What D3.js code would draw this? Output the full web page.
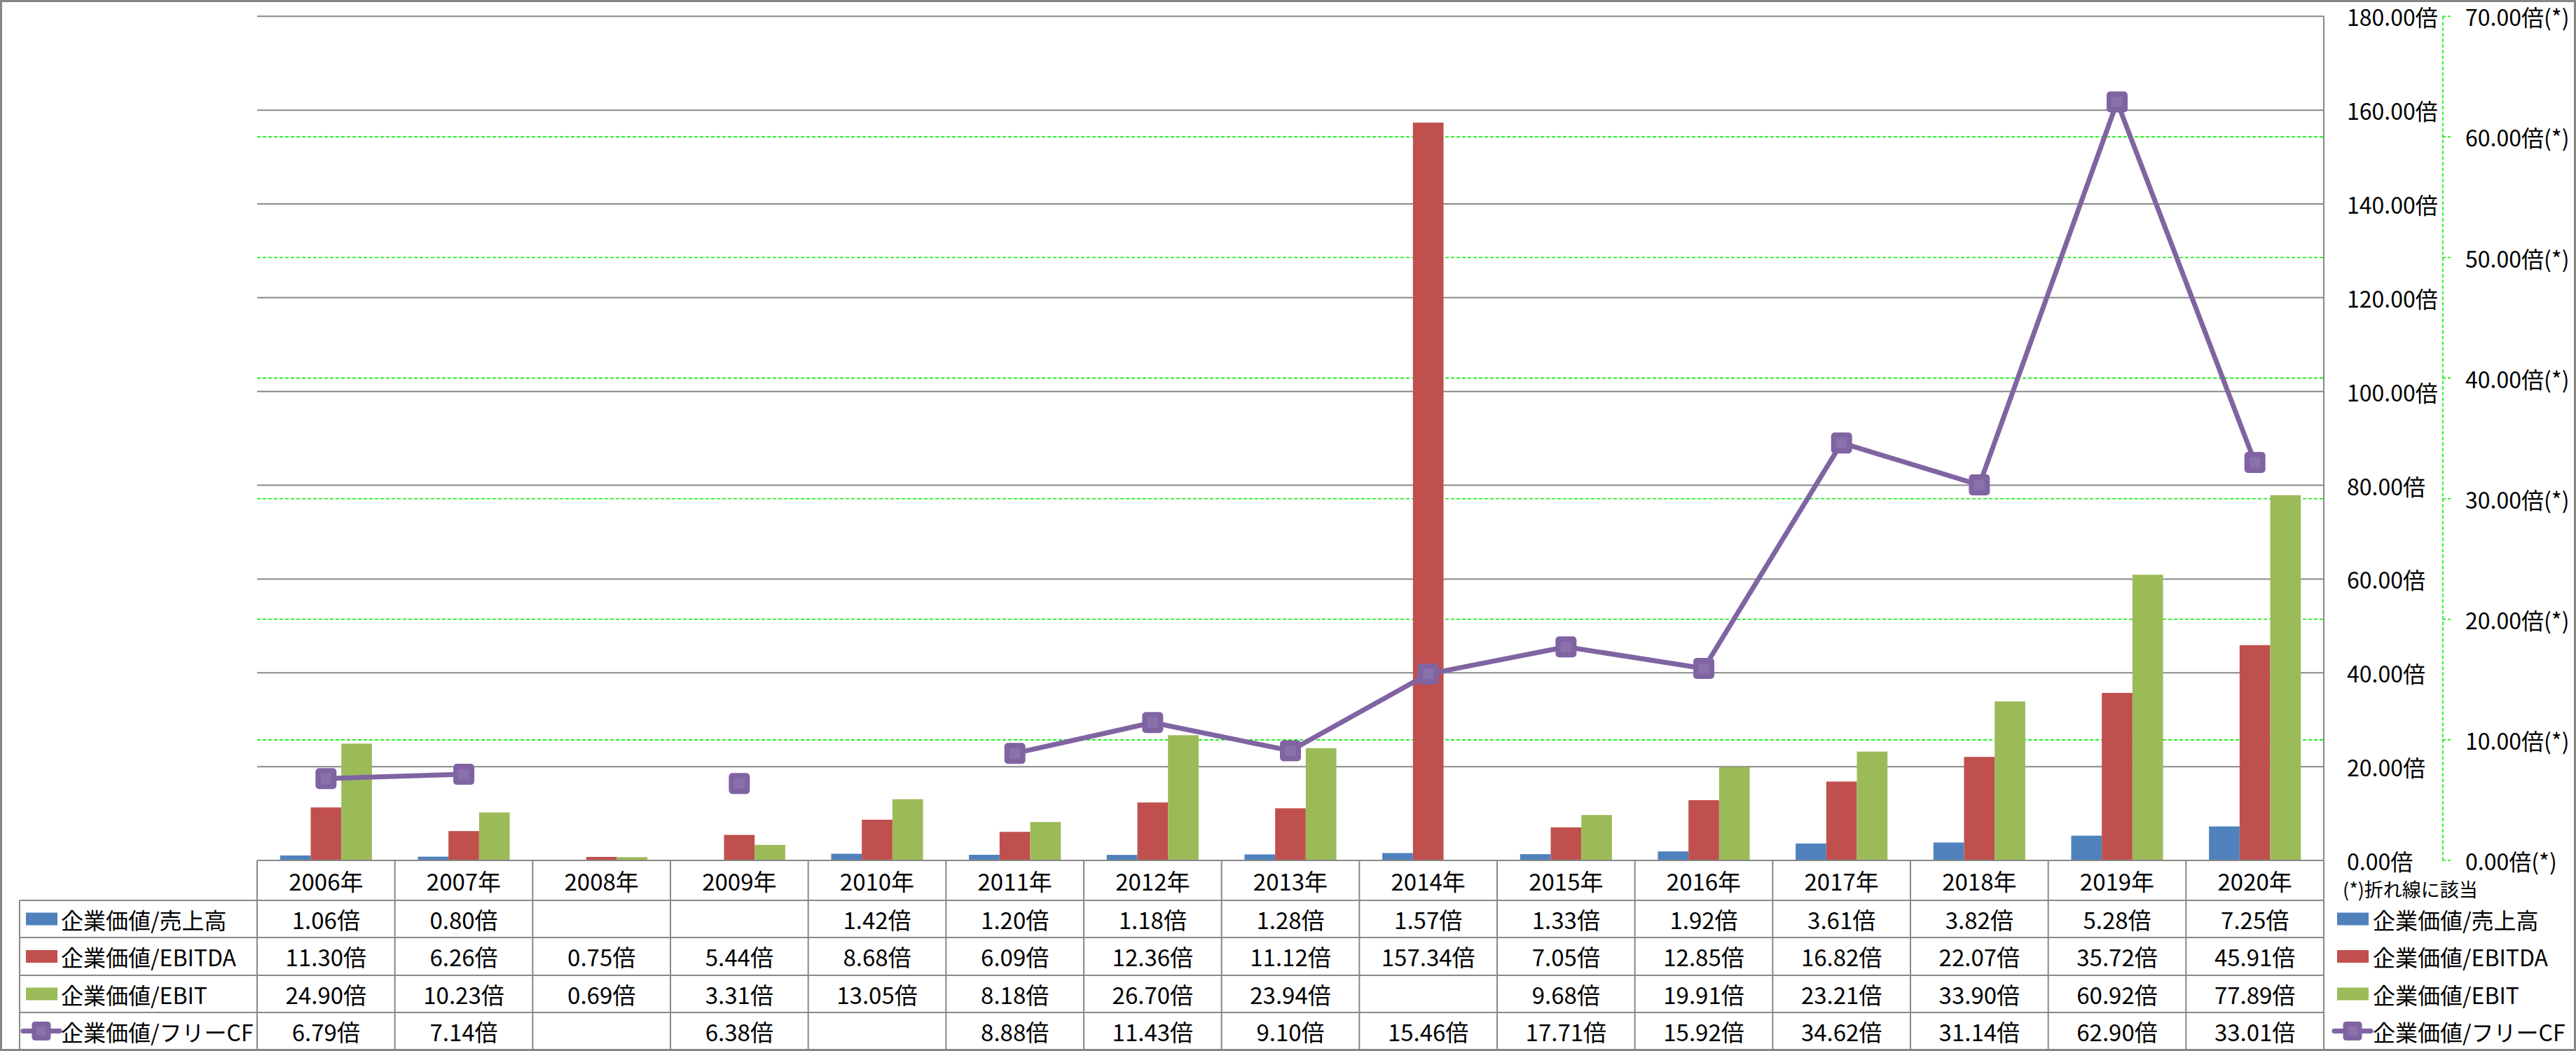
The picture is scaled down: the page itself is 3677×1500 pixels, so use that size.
<!DOCTYPE html>
<html><head><meta charset="utf-8">
<script src="https://cdn.jsdelivr.net/npm/d3@7/dist/d3.min.js"></script>
<style>
html,body{margin:0;padding:0;background:#fff;}
svg text{font-family:"Noto Sans CJK JP","Noto Sans",sans-serif;fill:#000;}
</style></head>
<body>
<svg id="c" width="3677" height="1500"></svg>
<script>
const years = ["2006年","2007年","2008年","2009年","2010年","2011年","2012年","2013年","2014年","2015年","2016年","2017年","2018年","2019年","2020年"];
const seriesNames = ["企業価値/売上高","企業価値/EBITDA","企業価値/EBIT","企業価値/フリーCF"];
const evSales  = [1.06,0.80,null,null,1.42,1.20,1.18,1.28,1.57,1.33,1.92,3.61,3.82,5.28,7.25];
const evEbitda = [11.30,6.26,0.75,5.44,8.68,6.09,12.36,11.12,157.34,7.05,12.85,16.82,22.07,35.72,45.91];
const evEbit   = [24.90,10.23,0.69,3.31,13.05,8.18,26.70,23.94,null,9.68,19.91,23.21,33.90,60.92,77.89];
const evFcf    = [6.79,7.14,null,6.38,null,8.88,11.43,9.10,15.46,17.71,15.92,34.62,31.14,62.90,33.01];
const leftTicks  = [0,20,40,60,80,100,120,140,160,180];
const rightTicks = [0,10,20,30,40,50,60,70];
const barColors = ["#4F81BD","#C0504D","#9BBB59"];
const lineColor = "#8064A2";
const gridGray = "#888888";
const green = "#00EE00";

const svg = d3.select("#c");
const W = 3677, H = 1500;
const plotL = 367, plotR = 3317, plotT = 23.3, base = 1228;

const x0 = d3.scaleBand().domain(years).range([plotL, plotR]).padding(0);
const bw = x0.bandwidth();
const barSeries = [evSales, evEbitda, evEbit];
const x1 = d3.scaleBand().domain([0,1,2]).range([bw/6, bw*5/6]).padding(0);
const yL = d3.scaleLinear().domain([0,180]).range([base, plotT]);
const yR = d3.scaleLinear().domain([0,70]).range([base, plotT]);

// outer border
svg.append("rect").attr("x",1.5).attr("y",1.5).attr("width",W-3).attr("height",H-3)
  .attr("fill","#fff").attr("stroke","#868686").attr("stroke-width",3);

// secondary gridlines (green dashed)
svg.append("g").selectAll("line").data(rightTicks.filter(v=>v>0 && v<70)).join("line")
  .attr("x1",plotL).attr("x2",plotR).attr("y1",d=>yR(d)).attr("y2",d=>yR(d))
  .attr("stroke",green).attr("stroke-width",1.6).attr("stroke-dasharray","5,3");

// primary gridlines
svg.append("g").selectAll("line").data(leftTicks.filter(v=>v>0)).join("line")
  .attr("x1",plotL).attr("x2",plotR).attr("y1",d=>yL(d)).attr("y2",d=>yL(d))
  .attr("stroke",gridGray).attr("stroke-width",2);

// bars
const gb = svg.append("g");
barSeries.forEach((arr,si)=>{
  gb.append("g").selectAll("rect").data(arr.map((v,i)=>({v,i}))).join("rect")
    .filter(d=>d.v!=null)
    .attr("x",d=>x0(years[d.i])+x1(si)).attr("width",x1.bandwidth())
    .attr("y",d=>yL(d.v)).attr("height",d=>base-yL(d.v))
    .attr("fill",barColors[si]);
});

// line
const pts = evFcf.map((v,i)=>({v,i}));
const line = d3.line().defined(d=>d.v!=null)
  .x(d=>x0(years[d.i])+bw/2).y(d=>yR(d.v));
svg.append("path").attr("d",line(pts)).attr("fill","none")
  .attr("stroke",lineColor).attr("stroke-width",7).attr("stroke-linejoin","round");
function marker(g, cx, cy, s){
  g.append("rect").attr("x",cx-s/2).attr("y",cy-s/2).attr("width",s).attr("height",s)
    .attr("rx",s*0.17).attr("fill",lineColor);
  g.append("rect").attr("x",cx-s*0.25).attr("y",cy-s*0.25).attr("width",s*0.5).attr("height",s*0.5)
    .attr("fill","#8A70AD");
}
const gm = svg.append("g");
pts.filter(d=>d.v!=null).forEach(d=>marker(gm, x0(years[d.i])+bw/2, yR(d.v), 30));

// table
const rowEdges = [1228,1285,1338,1392,1445,1498];
const tg = svg.append("g");
tg.append("line").attr("x1",plotL).attr("x2",plotR).attr("y1",base).attr("y2",base)
  .attr("stroke",gridGray).attr("stroke-width",2);
rowEdges.slice(1,5).forEach(y=>{
  tg.append("line").attr("x1",28).attr("x2",plotR).attr("y1",y).attr("y2",y)
    .attr("stroke",gridGray).attr("stroke-width",2);
});
years.forEach(yr=>{
  tg.append("line").attr("x1",x0(yr)).attr("x2",x0(yr)).attr("y1",base).attr("y2",1498)
    .attr("stroke",gridGray).attr("stroke-width",2);
});
tg.append("line").attr("x1",plotR).attr("x2",plotR).attr("y1",plotT).attr("y2",1498)
  .attr("stroke",gridGray).attr("stroke-width",2);
tg.append("line").attr("x1",28).attr("x2",28).attr("y1",1285).attr("y2",1498)
  .attr("stroke",gridGray).attr("stroke-width",2);

const rowC = i => (rowEdges[i]+rowEdges[i+1])/2;
tg.selectAll("text.yr").data(years).join("text").attr("class","yr")
  .attr("x",d=>x0(d)+bw/2).attr("y",rowC(0)).attr("text-anchor","middle")
  .attr("dominant-baseline","central").attr("font-size",33).text(d=>d);
const allSeries = [evSales, evEbitda, evEbit, evFcf];
const fmt = v => d3.format(".2f")(v)+"倍";
allSeries.forEach((arr,si)=>{
  tg.append("g").selectAll("text").data(arr.map((v,i)=>({v,i})).filter(d=>d.v!=null)).join("text")
    .attr("x",d=>x0(years[d.i])+bw/2).attr("y",rowC(si+1)).attr("text-anchor","middle")
    .attr("dominant-baseline","central").attr("font-size",33).text(d=>fmt(d.v));
});

function legend(keyX, textX){
  seriesNames.forEach((nm,si)=>{
    const cy = rowC(si+1);
    if(si<3){
      svg.append("rect").attr("x",keyX).attr("y",cy-9).attr("width",45).attr("height",18).attr("fill",barColors[si]);
    } else {
      svg.append("line").attr("x1",keyX-4).attr("x2",keyX+48).attr("y1",cy).attr("y2",cy)
        .attr("stroke",lineColor).attr("stroke-width",7).attr("stroke-linecap","round");
      marker(svg, keyX+22, cy, 27);
    }
    svg.append("text").attr("x",textX).attr("y",cy).attr("dominant-baseline","central")
      .attr("font-size",32).text(nm);
  });
}
legend(37, 87);
legend(3336, 3387);

svg.append("g").selectAll("text").data(leftTicks).join("text")
  .attr("x",3350).attr("y",d=>yL(d)).attr("dominant-baseline","central")
  .attr("font-size",32).text(d=>fmt(d));

const axX = 3487;
svg.append("line").attr("x1",axX).attr("x2",axX).attr("y1",plotT).attr("y2",base)
  .attr("stroke",green).attr("stroke-width",1.6).attr("stroke-dasharray","5,3");
svg.append("g").selectAll("line").data(rightTicks).join("line")
  .attr("x1",axX).attr("x2",axX+11).attr("y1",d=>yR(d)).attr("y2",d=>yR(d))
  .attr("stroke",green).attr("stroke-width",1.6).attr("stroke-dasharray","4,3");
svg.append("g").selectAll("text").data(rightTicks).join("text")
  .attr("x",3519).attr("y",d=>yR(d)).attr("dominant-baseline","central")
  .attr("font-size",32).text(d=>fmt(d)+"(*)");

svg.append("text").attr("x",3344).attr("y",1268).attr("dominant-baseline","central")
  .attr("font-size",27).text("(*)折れ線に該当");
</script>
</body></html>
